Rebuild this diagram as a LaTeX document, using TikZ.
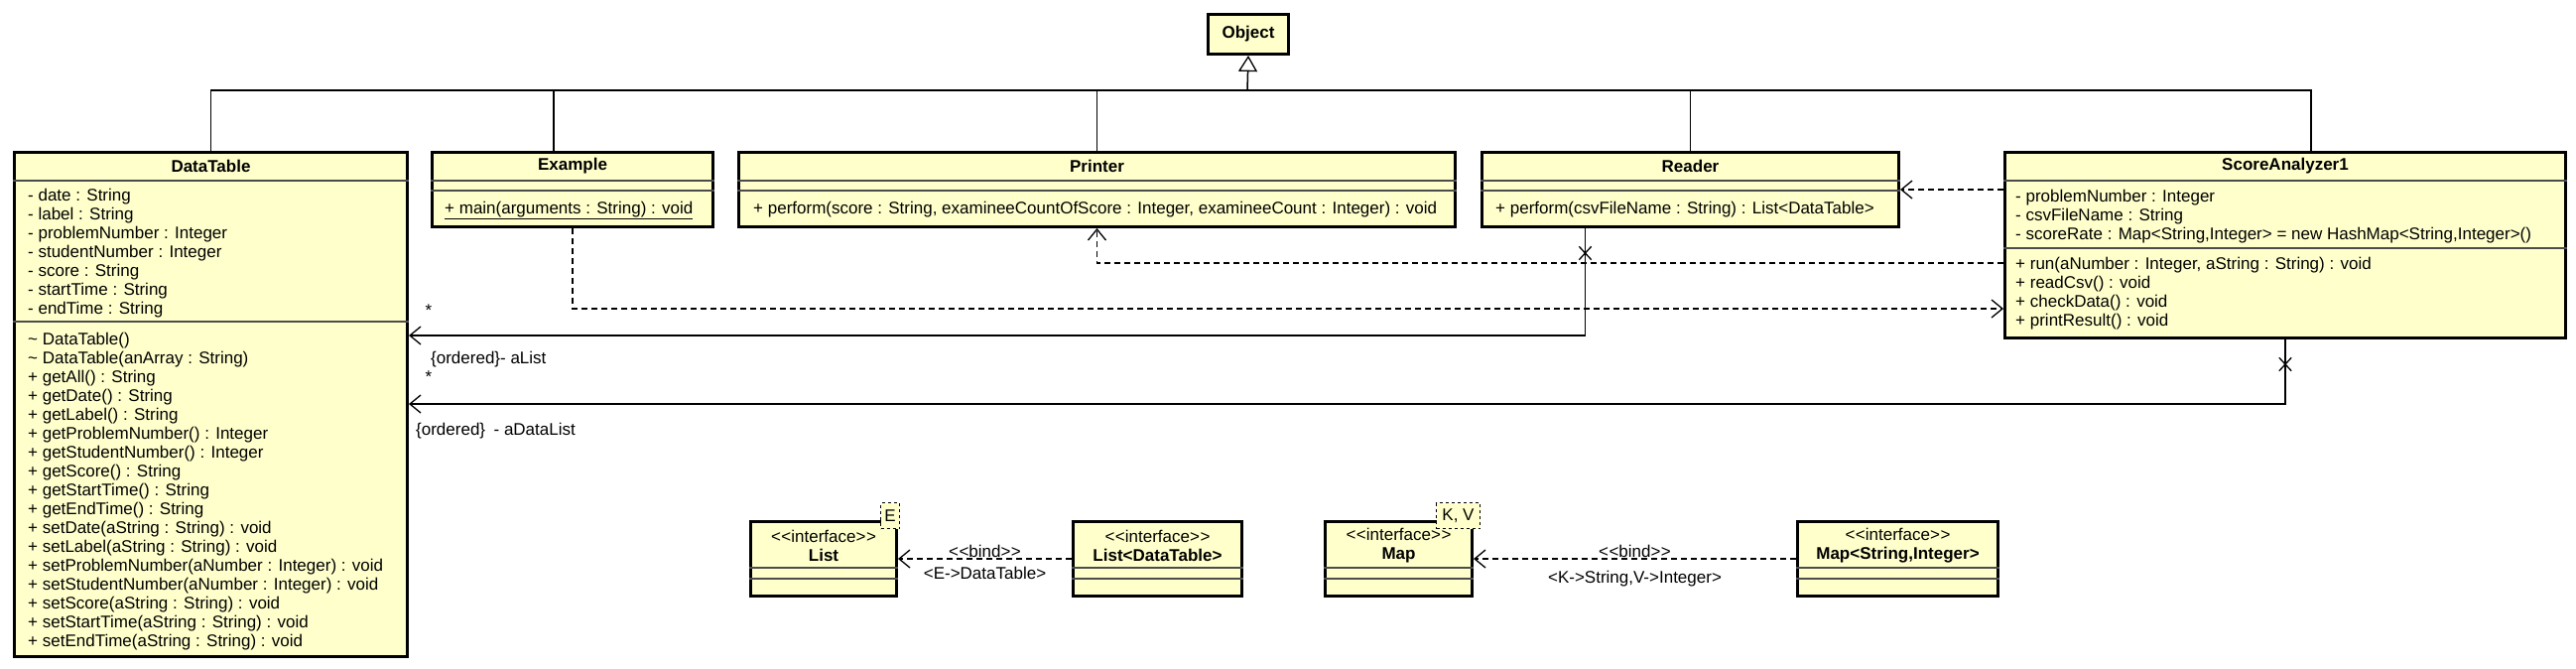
\documentclass[tikz,border=0pt]{standalone}
\usepackage{fontspec}
\setmainfont{Liberation Sans}
\usetikzlibrary{arrows.meta,positioning,shapes.misc}

\definecolor{classfill}{RGB}{255,255,204}
\newcommand{\umlfont}{\fontsize{17}{19}\selectfont}
% keep << and >> as two characters
\newcommand{\stereo}[1]{<\kern0.5pt<#1>\kern0.5pt>}

\tikzset{
  classbox/.style={draw,line width=3pt,fill=classfill,inner sep=0pt,anchor=north west},
  parambox/.style={draw,dashed,line width=1pt,fill=classfill,inner sep=0pt,anchor=north west,font=\umlfont},
  classname/.style={inner sep=0pt,font=\umlfont\bfseries},
  members/.style={inner sep=0pt,anchor=north west,align=left,font=\umlfont},
  compartment/.style={line width=1.5pt,black!70},
  generalization/.style={line width=1.5pt},
  dependency/.style={line width=1.5pt,dash pattern=on 6pt off 4pt,
    -{Straight Barb[length=11pt,width=18pt,line width=1.3pt]}},
  association/.style={line width=1.5pt,
    -{Straight Barb[length=11pt,width=18pt,line width=1.3pt]}},
  noarrow/.style={draw,cross out,line width=1.3pt,inner sep=0pt,minimum width=11pt,minimum height=12pt},
  endlabel/.style={inner sep=0pt,font=\umlfont},
}

\begin{document}
\begin{tikzpicture}[x=1pt,y=-1pt]
\useasboundingbox (0,0) rectangle (2596,673);

% superclass
\node[classbox,font=\umlfont\bfseries,minimum width=81pt,minimum height=40pt] (object) at (1216,13) {Object};

% DataTable
\node[classbox,minimum width=396pt,minimum height=508pt] (datatable) at (13,152) {};
\node[classname] (datatablename) at ([yshift=-15pt]datatable.north) {DataTable};
\draw[compartment] ([yshift=-30pt]datatable.north west) -- ([yshift=-30pt]datatable.north east);
\draw[compartment] ([yshift=-172pt]datatable.north west) -- ([yshift=-172pt]datatable.north east);
\node[members] (datatableattrs) at ([xshift=15pt,yshift=-36.7pt]datatable.north west)
  {\strut- date : String\\- label : String\\- problemNumber : Integer\\- studentNumber : Integer\\
   - score : String\\- startTime : String\\- endTime : String};
\node[members] (datatableops) at ([xshift=15pt,yshift=-181.7pt]datatable.north west)
  {\strut\textasciitilde\ DataTable()\\\textasciitilde\ DataTable(anArray : String)\\
   + getAll() : String\\+ getDate() : String\\+ getLabel() : String\\
   + getProblemNumber() : Integer\\+ getStudentNumber() : Integer\\+ getScore() : String\\
   + getStartTime() : String\\+ getEndTime() : String\\+ setDate(aString : String) : void\\
   + setLabel(aString : String) : void\\+ setProblemNumber(aNumber : Integer) : void\\
   + setStudentNumber(aNumber : Integer) : void\\+ setScore(aString : String) : void\\
   + setStartTime(aString : String) : void\\+ setEndTime(aString : String) : void};

% Example
\node[classbox,minimum width=283pt,minimum height=75pt] (example) at (434,152) {};
\node[classname] (examplename) at ([yshift=-15pt]example.north) {Example};
\draw[compartment] ([yshift=-30pt]example.north west) -- ([yshift=-30pt]example.north east);
\draw[compartment] ([yshift=-40pt]example.north west) -- ([yshift=-40pt]example.north east);
\node[members] (exampleops) at ([xshift=14pt,yshift=-49.7pt]example.north west)
  {\strut\underline{+ main(arguments : String) : void}};

% Printer
\node[classbox,minimum width=722pt,minimum height=75pt] (printer) at (743,152) {};
\node[classname] (printername) at ([yshift=-15pt]printer.north) {Printer};
\draw[compartment] ([yshift=-30pt]printer.north west) -- ([yshift=-30pt]printer.north east);
\draw[compartment] ([yshift=-40pt]printer.north west) -- ([yshift=-40pt]printer.north east);
\node[members] (printerops) at ([xshift=16pt,yshift=-49.7pt]printer.north west)
  {\strut+ perform(score : String, examineeCountOfScore : Integer, examineeCount : Integer) : void};

% Reader
\node[classbox,minimum width=420pt,minimum height=75pt] (reader) at (1492,152) {};
\node[classname] (readername) at ([yshift=-15pt]reader.north) {Reader};
\draw[compartment] ([yshift=-30pt]reader.north west) -- ([yshift=-30pt]reader.north east);
\draw[compartment] ([yshift=-40pt]reader.north west) -- ([yshift=-40pt]reader.north east);
\node[members] (readerops) at ([xshift=15pt,yshift=-49.7pt]reader.north west)
  {\strut+ perform(csvFileName : String) : List<DataTable>};

% ScoreAnalyzer1
\node[classbox,minimum width=565pt,minimum height=187pt] (analyzer) at (2019,152) {};
\node[classname] (analyzername) at ([yshift=-15pt]analyzer.north) {ScoreAnalyzer1};
\draw[compartment] ([yshift=-30pt]analyzer.north west) -- ([yshift=-30pt]analyzer.north east);
\draw[compartment] ([yshift=-98pt]analyzer.north west) -- ([yshift=-98pt]analyzer.north east);
\node[members] (analyzerattrs) at ([xshift=12pt,yshift=-37.7pt]analyzer.north west)
  {\strut- problemNumber : Integer\\- csvFileName : String\\
   - scoreRate : Map<String,Integer> = new HashMap<String,Integer>()};
\node[members] (analyzerops) at ([xshift=12pt,yshift=-105.7pt]analyzer.north west)
  {\strut+ run(aNumber : Integer, aString : String) : void\\+ readCsv() : void\\
   + checkData() : void\\+ printResult() : void};

% generalization
\coordinate (gen) at (1257,91);
\draw[generalization,-{Triangle[fill=white,length=16pt,width=19pt,line width=1.3pt]}] (gen) -- (object.south);
\draw[generalization] (datatable.north) |- (gen);
\draw[generalization] ([xshift=-19pt]example.north) |- (gen);
\draw[generalization] (printer.north) |- (gen);
\draw[generalization] (reader.north) |- (gen);
\draw[generalization] ([xshift=26pt]analyzer.north) |- (gen);

% dependencies
\draw[dependency] (analyzer.west |- reader.east) -- (reader.east);
\draw[dependency] ([yshift=-113pt]analyzer.north west) -| (printer.south);
\draw[dependency] (example.south) |- ([yshift=-159pt]analyzer.north west);

% associations
\draw[association] ([xshift=-106pt]reader.south) |- ([yshift=-186pt]datatable.north east);
\node[noarrow] (readerx) at ([xshift=-106pt,yshift=-25pt]reader.south) {};
\node[endlabel] (alistmult) at ([xshift=20pt,yshift=-161pt]datatable.north east) {*};
\node[endlabel,anchor=west] (alistname) at ([xshift=22pt,yshift=-210pt]datatable.north east) {\{ordered\}- aList};

\draw[association] (analyzer.south) |- ([yshift=-255pt]datatable.north east);
\node[noarrow] (analyzerx) at ([yshift=-25pt]analyzer.south) {};
\node[endlabel] (adatalistmult) at ([xshift=20pt,yshift=-228pt]datatable.north east) {*};
\node[endlabel,anchor=west] (adatalistname) at ([xshift=7pt,yshift=-282pt]datatable.north east) {\{ordered\}\enspace - aDataList};

% template interfaces
\node[classbox,minimum width=147pt,minimum height=75pt] (list) at (755,524) {};
\node[classname,align=center] (listname) at ([yshift=-26pt]list.north) {\mdseries\stereo{interface}\\List};
\draw[compartment] ([yshift=-48pt]list.north west) -- ([yshift=-48pt]list.north east);
\draw[compartment] ([yshift=-59pt]list.north west) -- ([yshift=-59pt]list.north east);
\node[parambox,minimum width=19pt,minimum height=26pt] (listparam) at (887,506) {E};

\node[classbox,minimum width=170pt,minimum height=75pt] (listbound) at (1080,524) {};
\node[classname,align=center] (listboundname) at ([yshift=-26pt]listbound.north) {\mdseries\stereo{interface}\\List<DataTable>};
\draw[compartment] ([yshift=-48pt]listbound.north west) -- ([yshift=-48pt]listbound.north east);
\draw[compartment] ([yshift=-59pt]listbound.north west) -- ([yshift=-59pt]listbound.north east);

\node[classbox,minimum width=148pt,minimum height=75pt] (map) at (1334,524) {};
\node[classname,align=center] (mapname) at ([yshift=-26pt]map.north) {\mdseries\stereo{interface}\\Map};
\draw[compartment] ([yshift=-48pt]map.north west) -- ([yshift=-48pt]map.north east);
\draw[compartment] ([yshift=-59pt]map.north west) -- ([yshift=-59pt]map.north east);
\node[parambox,minimum width=44pt,minimum height=26pt] (mapparam) at (1447,506) {K, V};

\node[classbox,minimum width=202pt,minimum height=75pt] (mapbound) at (1810,524) {};
\node[classname,align=center] (mapboundname) at ([yshift=-26pt]mapbound.north) {\mdseries\stereo{interface}\\Map<String,Integer>};
\draw[compartment] ([yshift=-48pt]mapbound.north west) -- ([yshift=-48pt]mapbound.north east);
\draw[compartment] ([yshift=-59pt]mapbound.north west) -- ([yshift=-59pt]mapbound.north east);

% bindings
\draw[dependency] (listbound.west) -- (list.east)
  node[endlabel,midway,yshift=8pt] (listbind) {\stereo{bind}}
  node[endlabel,midway,yshift=-14pt] (listsubst) {<E->DataTable>};
\draw[dependency] (mapbound.west) -- (map.east)
  node[endlabel,midway,yshift=8pt] (mapbind) {\stereo{bind}}
  node[endlabel,midway,yshift=-20pt] (mapsubst) {<K->String,V->Integer>};
\end{tikzpicture}
\end{document}
